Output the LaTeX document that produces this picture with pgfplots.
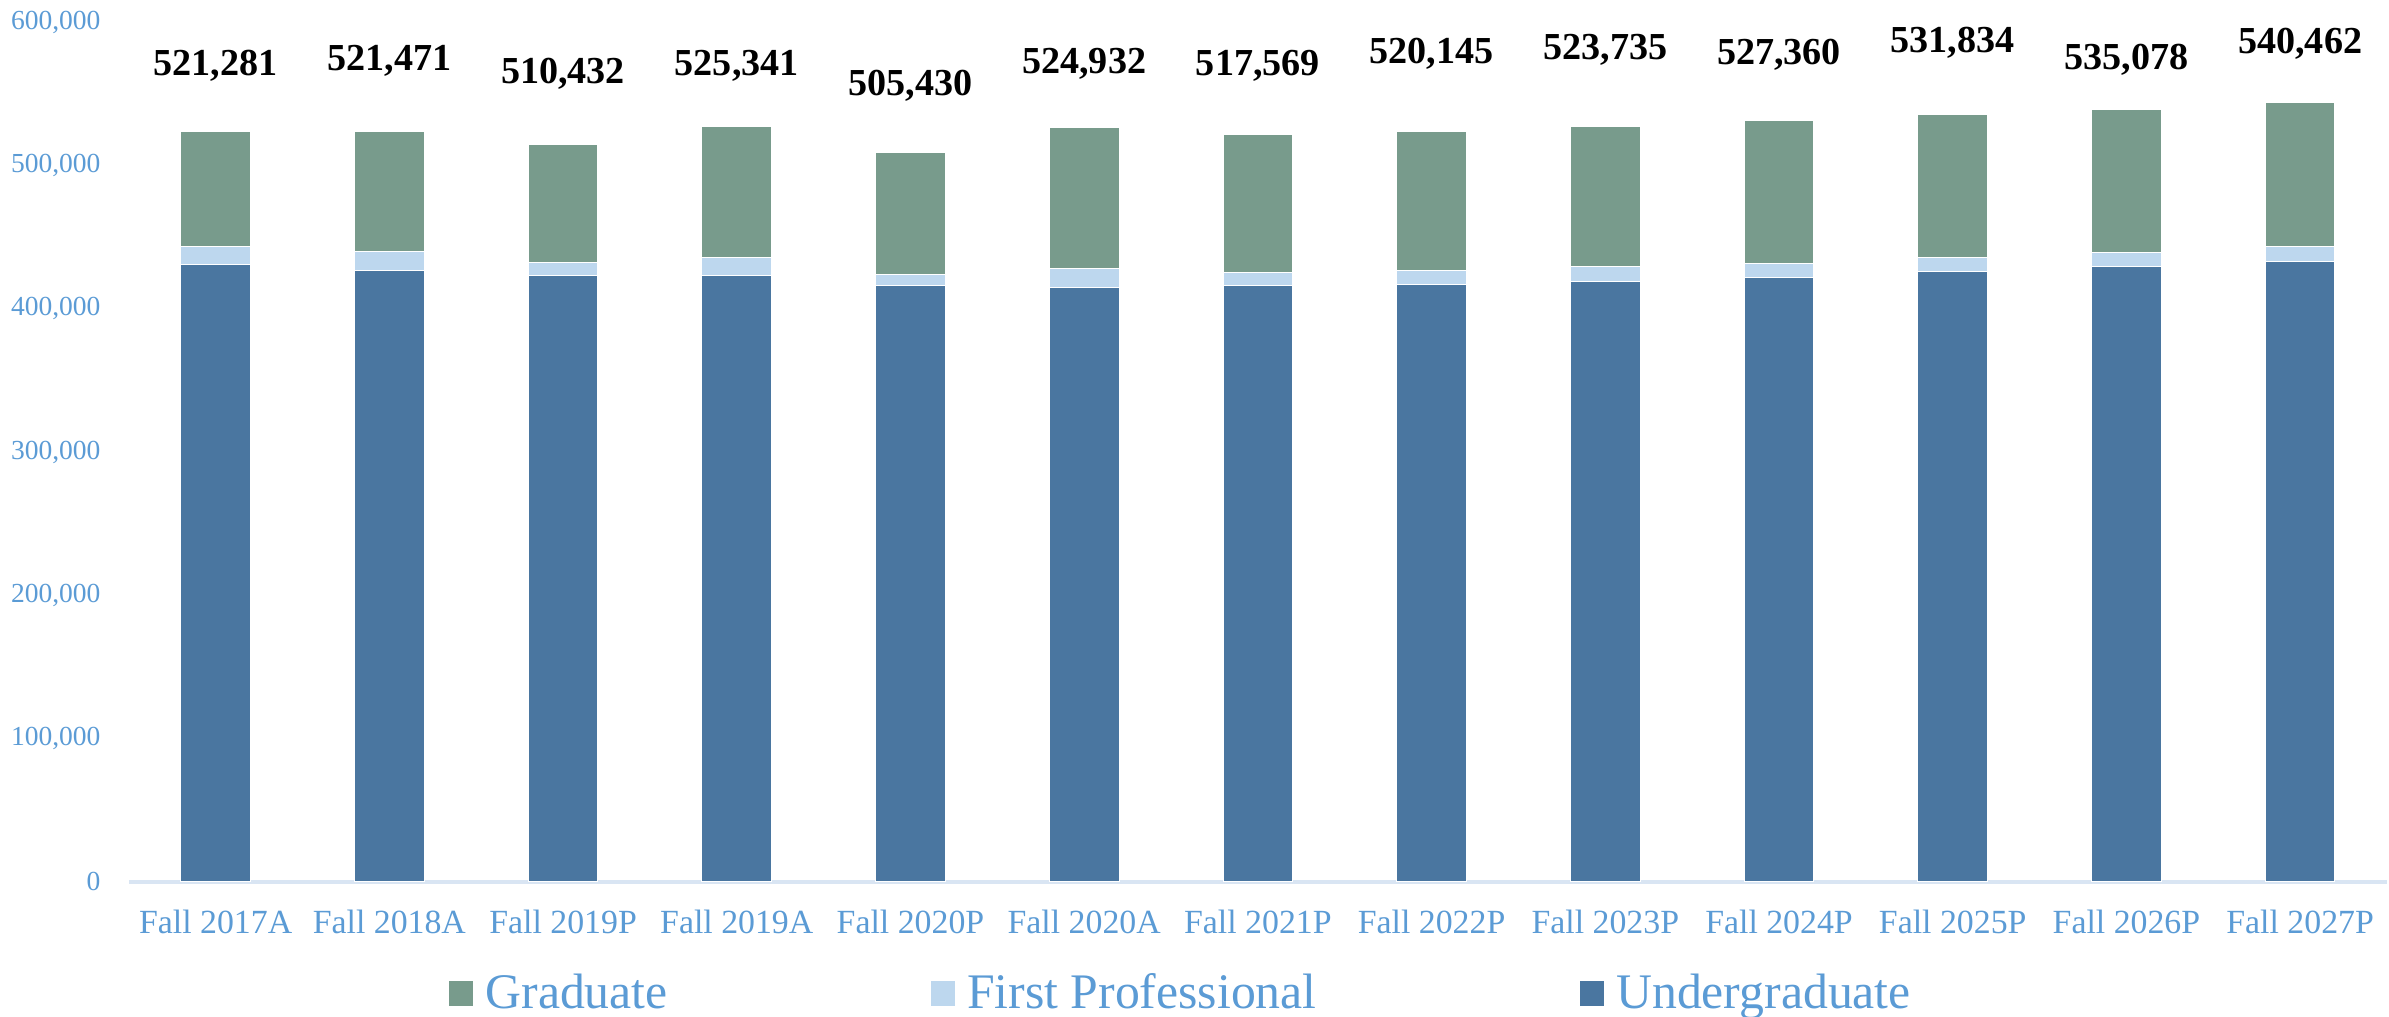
\documentclass[border=0pt]{standalone}
\usepackage{fontspec}
\setmainfont{Liberation Serif}
\usepackage{pgfplots}
\usepackage{pgfplotstable}
\pgfplotsset{compat=1.18}

\definecolor{grad}{HTML}{789B8C}
\definecolor{fp}{HTML}{BDD7EE}
\definecolor{ug}{HTML}{4A76A0}
\definecolor{tickblue}{HTML}{5B9BD5}
\definecolor{axisline}{HTML}{D9E5F3}

% enrollment by level
\pgfplotstableread{
x  ug     fp    grad
0  431000 12500 80000
1  427000 12800 84000
2  423500 8500  83000
3  423500 12500 91500
4  416000 8000  85000
5  414800 13000 99000
6  416000 9600  96000
7  417000 9500  97500
8  419000 10200 98000
9  422200 9700  99300
10 426300 9600  99800
11 429500 9800  99800
12 433200 10200 100800
}\enroll

% total labels and where they sit
\pgfplotstableread{
x  ly     lab
0  569700 521,281
1  573100 521,471
2  563900 510,432
3  569700 525,341
4  555800 505,430
5  571300 524,932
6  569700 517,569
7  578300 520,145
8  580600 523,735
9  577300 527,360
10 585900 531,834
11 573800 535,078
12 585200 540,462
}\totals

\pgfplotsset{
  common/.style={
    width=681pt, height=259.2pt, scale only axis,
    xmin=-0.5, xmax=12.5, ymin=0, ymax=600000,
  }
}

\begin{document}
\begin{tikzpicture}
\begin{axis}[
    common,
    ybar stacked, bar width=21pt,
    axis x line*=bottom,
    axis y line*=left,
    x axis line style={draw=axisline, line width=1.2pt, -},
    y axis line style={draw=none},
    xtick={0,...,12},
    xticklabels={Fall 2017A,Fall 2018A,Fall 2019P,Fall 2019A,Fall 2020P,Fall 2020A,Fall 2021P,Fall 2022P,Fall 2023P,Fall 2024P,Fall 2025P,Fall 2026P,Fall 2027P},
    ytick={0,100000,...,600000},
    major tick length=0pt,
    scaled y ticks=false,
    /pgf/number format/assume math mode=true,
    yticklabel={\pgfmathprintnumber[fixed, 1000 sep={,}]{\tick}},
    yticklabel style={font=\fontsize{8.3}{10}\selectfont, text=tickblue, xshift=-5pt},
    xticklabel style={font=\fontsize{10.2}{11}\selectfont, text=tickblue, yshift=-5pt},
    reverse legend,
    legend columns=3,
    legend style={at={(0.466,-0.13)}, anchor=center, draw=none, inner sep=0pt,
        font=\fontsize{15}{16}\selectfont, text=tickblue,
        nodes={inner sep=1pt},
        /tikz/every odd column/.append style={column sep=2.5pt},
        /tikz/every even column/.append style={column sep=78pt}},
    legend image code/.code={\fill[#1] (0pt,-3.8pt) rectangle (7.5pt,3.9pt);},
]
\addplot[fill=ug, draw=white, line width=0.3pt] table[x=x, y=ug] {\enroll};
\addlegendentry{Undergraduate}
\addplot[fill=fp, draw=white, line width=0.3pt] table[x=x, y=fp] {\enroll};
\addlegendentry{First Professional}
\addplot[fill=grad, draw=white, line width=0.3pt] table[x=x, y=grad] {\enroll};
\addlegendentry{Graduate}
\end{axis}

\begin{axis}[
    common,
    hide axis,
    point meta=explicit symbolic,
    nodes near coords,
    every node near coord/.append style={anchor=center, text=black,
        font=\bfseries\fontsize{11.5}{12}\selectfont},
]
\addplot[draw=none, mark=none] table[x=x, y=ly, meta=lab] {\totals};
\end{axis}
\end{tikzpicture}
\end{document}
